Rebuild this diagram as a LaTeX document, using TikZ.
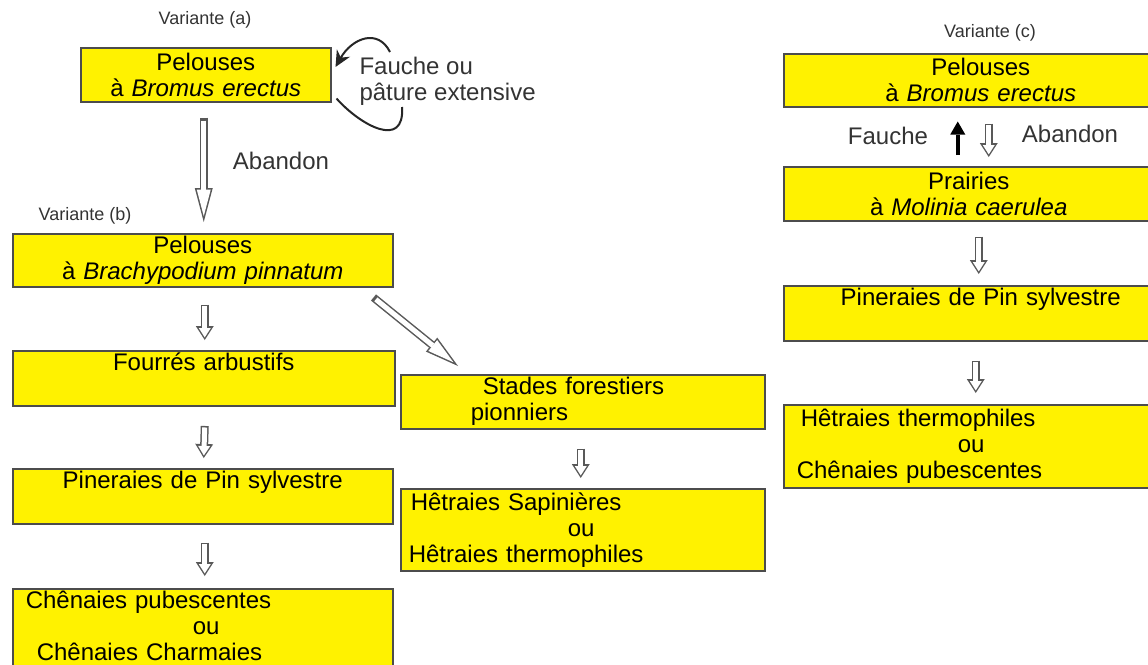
\documentclass[tikz,border=0pt]{standalone}
\usepackage{fontspec}
\setmainfont{Liberation Sans}
\usetikzlibrary{arrows.meta}
\usetikzlibrary{positioning}

\begin{document}
\begin{tikzpicture}[x=1pt,y=-1pt,
  box/.style={rectangle, draw=black!70, fill=yellow, line width=1.5pt, anchor=north west, inner xsep=0pt, inner ysep=2pt, align=center, font=\fontsize{24}{26}\selectfont, text=black},
  lab/.style={font=\fontsize{24}{26}\selectfont, text=black!80},
  var/.style={font=\fontsize{18}{20}\selectfont, text=black!80},
  hollow/.style={draw=black!65, line width=8pt, -{Triangle[length=14pt,width=18pt,line width=0pt]},
    postaction={draw=white, line width=5pt, shorten <=1.5pt, shorten >=2.6pt, -{Triangle[length=9.4pt,width=12pt,line width=0pt]}}},
  hollowbig/.style={draw=black!65, line width=8pt, -{Triangle[length=34pt,width=18pt,line width=0pt]},
    postaction={draw=white, line width=5pt, shorten <=3pt, shorten >=5.9pt, -{Triangle[length=26.6pt,width=14pt,line width=0pt]}}},
  solid/.style={draw=black, line width=4.5pt, -{Triangle[length=13pt,width=15pt,line width=0pt]}},
  curl/.style={draw=black!85, line width=2pt, -{Stealth[length=16pt,width=15pt]}},
  curlline/.style={draw=black!85, line width=2pt}]
\clip (0,0) rectangle (1148,664);

\node[box, text width=250pt, minimum height=54pt] (bromA) at (80,47) {Pelouses\\à \textit{Bromus erectus}};
\node[box, text width=380pt, minimum height=53pt] (brach) at (12,233) {Pelouses\\à \textit{Brachypodium pinnatum}};
\node[box, text width=382pt, minimum height=55pt] (fourres) at (12,350) {Fourrés arbustifs\\\strut};
\node[box, text width=380pt, minimum height=54pt] (pinL) at (12,468) {Pineraies de Pin sylvestre\\\strut};
\node[box, text width=380pt, text depth=63pt, align=left] (chenL) at (12,588) {\hspace*{13pt}Chênaies pubescentes\\\hspace*{180pt}ou\\\hspace*{24pt}Chênaies Charmaies};
\node[box, text width=364pt, minimum height=54pt, align=left] (stades) at (400,374) {\hspace*{82pt}Stades forestiers\\\hspace*{70pt}pionniers};
\node[box, text width=364pt, minimum height=82pt, align=left] (hetG) at (400,488) {\hspace*{10pt}Hêtraies Sapinières\\\hspace*{167pt}ou\\\hspace*{8pt}Hêtraies thermophiles};

\node[box, text width=394pt, minimum height=53pt] (bromC) at (783,53) {Pelouses\\à \textit{Bromus erectus}};
\node[box, text width=394pt, minimum height=54pt] (molinia) at (783,166) {\hspace*{-24pt}Prairies\\\hspace*{-24pt}à \textit{Molinia caerulea}};
\node[box, text width=394pt, minimum height=54pt] (pinR) at (783,285) {Pineraies de Pin sylvestre\\\strut};
\node[box, text width=394pt, minimum height=83pt, align=left] (hetR) at (783,404) {\hspace*{17pt}Hêtraies thermophiles\\\hspace*{174pt}ou\\\hspace*{13pt}Chênaies pubescentes};

\node[var] (varA) at (205,20) {Variante (a)};
\node[var] (varB) at (85,216) {Variante (b)};
\node[var] (varC) at (990,33) {Variante (c)};
\node[lab, align=left, anchor=west] (fauche) at (356,81) {Fauche ou\\pâture extensive};
\node[lab] (abandonA) at (281,161) {Abandon};
\node[lab] (faucheC) at (888,136) {Fauche};
\node[lab] (abandonC) at (1070,134) {Abandon};

\coordinate (loopT) at (390,52);
\coordinate (loopB) at (402,107);
\draw[curl] (loopT) .. controls (378,28) and (352,38) .. ([xshift=4pt,yshift=-20pt]bromA.north east);
\draw[curlline] ([xshift=5pt,yshift=4pt]bromA.south east) .. controls (360,125) and (405,150) .. (loopB);

\draw[hollowbig] ([xshift=-2pt,yshift=-15pt]bromA.south) -- ([xshift=1pt,yshift=11pt]brach.north);
\draw[hollow] ([xshift=2pt,yshift=-17pt]brach.south) -- ([xshift=1pt,yshift=10pt]fourres.north);
\draw[hollow] ([xshift=1pt,yshift=-19pt]fourres.south) -- ([xshift=1pt,yshift=10pt]pinL.north);
\draw[hollow] ([xshift=2pt,yshift=-18pt]pinL.south) -- ([xshift=2pt,yshift=12pt]chenL.north);
\draw[hollowbig] ([xshift=-20pt,yshift=-10pt]brach.south east) -- ([xshift=58pt,yshift=8pt]stades.north west);
\draw[hollow] ([xshift=-2pt,yshift=-19pt]stades.south) -- ([xshift=-2pt,yshift=10pt]hetG.north);

\draw[hollow] ([xshift=8pt,yshift=-16pt]bromC.south) -- ([xshift=8pt,yshift=9pt]molinia.north);
\draw[solid] ([xshift=-23pt,yshift=11pt]molinia.north) -- ([xshift=-23pt,yshift=-14pt]bromC.south);
\draw[hollow] ([xshift=-2pt,yshift=-15pt]molinia.south) -- ([xshift=-2pt,yshift=11pt]pinR.north);
\draw[hollow] ([xshift=-5pt,yshift=-19pt]pinR.south) -- ([xshift=-5pt,yshift=11pt]hetR.north);

\end{tikzpicture}
\end{document}
